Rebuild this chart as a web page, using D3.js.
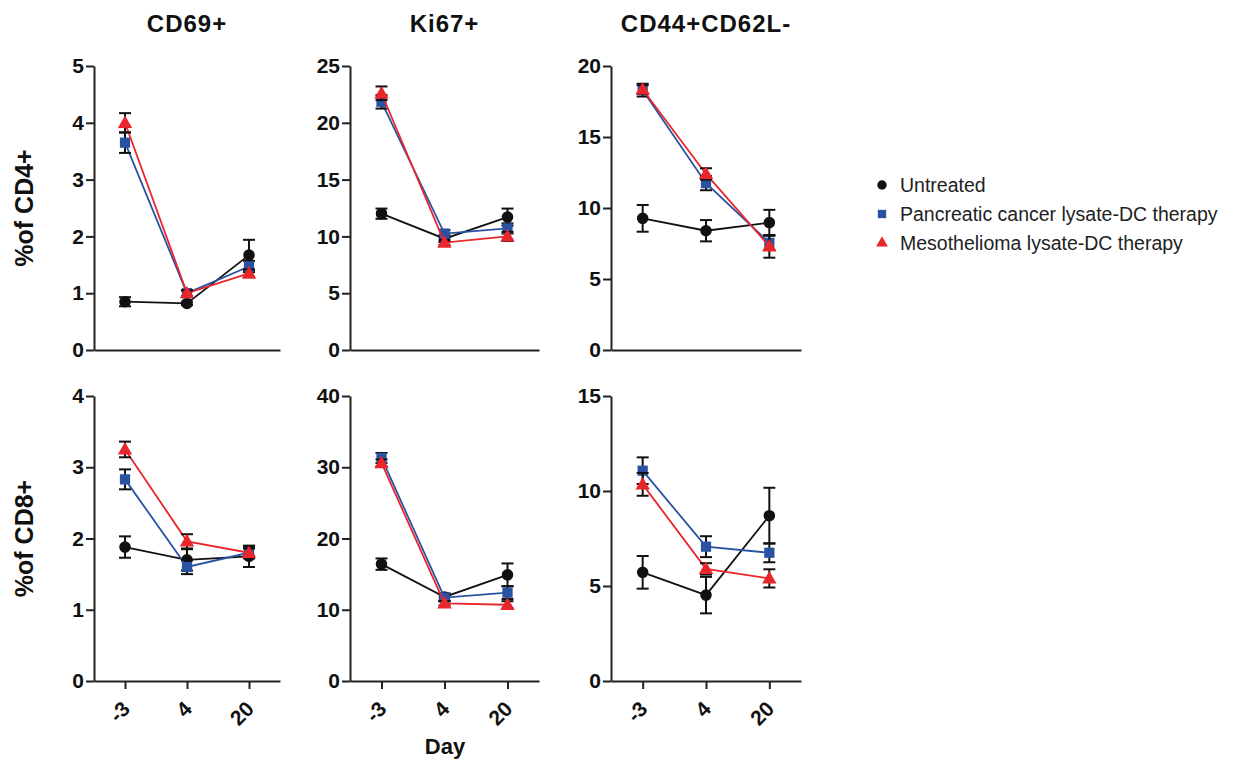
<!DOCTYPE html>
<html>
<head>
<meta charset="utf-8">
<script src="https://cdn.jsdelivr.net/npm/d3@7"></script>
<style>
  body { margin: 0; background: #fff; }
  svg text { fill: #111; }
</style>
</head>
<body>
<div id="chart"></div>
<script>
// Categories and labels
const days = ["-3", "4", "20"];
const groups = ["Untreated", "Pancreatic cancer lysate-DC therapy", "Mesothelioma lysate-DC therapy"];
const panelTitles = ["CD69+", "Ki67+", "CD44+CD62L-"];
const rowLabels = ["%of CD4+", "%of CD8+"];

// y axis max and ticks, by row then column
const yMax = [[5, 25, 20], [4, 40, 15]];
const yTicks = [
  [[0, 1, 2, 3, 4, 5], [0, 5, 10, 15, 20, 25], [0, 5, 10, 15, 20]],
  [[0, 1, 2, 3, 4], [0, 10, 20, 30, 40], [0, 5, 10, 15]]
];

// means and error (SEM) per group: [Untreated, Pancreatic, Mesothelioma]
const cd4Cd69Mean = [[0.85, 0.82, 1.67], [3.65, 1.0, 1.47], [4.0, 1.0, 1.35]];
const cd4Cd69Err  = [[0.08, 0.03, 0.27], [0.18, 0.05, 0.1], [0.17, 0.05, 0.07]];
const cd4Ki67Mean = [[12.0, 9.8, 11.7], [21.85, 10.25, 10.7], [22.6, 9.45, 10.0]];
const cd4Ki67Err  = [[0.45, 0.3, 0.75], [0.6, 0.3, 0.45], [0.6, 0.2, 0.4]];
const cd4Cd44Mean = [[9.27, 8.4, 8.97], [18.3, 11.75, 7.55], [18.35, 12.4, 7.3]];
const cd4Cd44Err  = [[0.94, 0.75, 0.9], [0.45, 0.5, 0.5], [0.3, 0.4, 0.8]];
const cd8Cd69Mean = [[1.88, 1.70, 1.75], [2.83, 1.60, 1.80], [3.25, 1.96, 1.80]];
const cd8Cd69Err  = [[0.15, 0.15, 0.15], [0.14, 0.1, 0.08], [0.11, 0.1, 0.06]];
const cd8Ki67Mean = [[16.4, 11.8, 14.9], [31.3, 11.7, 12.4], [30.6, 10.9, 10.7]];
const cd8Ki67Err  = [[0.8, 0.5, 1.6], [0.7, 0.5, 0.9], [0.5, 0.3, 0.5]];
const cd8Cd44Mean = [[5.72, 4.52, 8.7], [11.07, 7.07, 6.75], [10.35, 5.9, 5.4]];
const cd8Cd44Err  = [[0.86, 0.96, 1.47], [0.7, 0.55, 0.5], [0.6, 0.3, 0.48]];

const means = [[cd4Cd69Mean, cd4Ki67Mean, cd4Cd44Mean], [cd8Cd69Mean, cd8Ki67Mean, cd8Cd44Mean]];
const errs = [[cd4Cd69Err, cd4Ki67Err, cd4Cd44Err], [cd8Cd69Err, cd8Ki67Err, cd8Cd44Err]];

const colors = ["#111111", "#2a52a3", "#e8262b"];
const symbols = [d3.symbolCircle, d3.symbolSquare, d3.symbolTriangle];
const symSizes = [105, 105, 90];

const width = 1235, height = 762;
const boldFont = "'Liberation Sans', Arial, sans-serif";

const svg = d3.select("#chart").append("svg")
  .attr("width", width)
  .attr("height", height);

// panel placement
const colX = [[94, 280], [350, 539], [611, 801]];
const rowY = [[66, 350], [396, 681]];

function boldText(sel, size) {
  sel.style("font-family", boldFont).style("font-weight", "bold")
    .style("font-size", size + "px").style("fill", "#111");
}

for (let r = 0; r < 2; r++) {
  for (let c = 0; c < 3; c++) {
    const x = d3.scalePoint().domain(days).range(colX[c]).padding(0.5);
    const y = d3.scaleLinear().domain([0, yMax[r][c]]).range([rowY[r][1], rowY[r][0]]);
    const g = svg.append("g");

    // y axis
    const yAxis = g.append("g")
      .attr("transform", `translate(${colX[c][0]},0)`)
      .call(d3.axisLeft(y).tickValues(yTicks[r][c]).tickFormat(d3.format("d"))
        .tickSize(8).tickSizeOuter(0).tickPadding(2));
    yAxis.selectAll("text").call(boldText, 21);

    // x axis
    const xAxis = g.append("g")
      .attr("transform", `translate(0,${rowY[r][1]})`)
      .call(d3.axisBottom(x).tickSize(r === 1 ? 8 : 0).tickSizeOuter(0));
    xAxis.selectAll("text").remove();
    if (r === 1) {
      g.selectAll(".xlab")
        .data(days)
        .enter().append("text")
        .attr("class", "xlab")
        .attr("transform", d => `translate(${x(d) + 1},${rowY[r][1] + 24}) rotate(-45)`)
        .attr("text-anchor", "end")
        .attr("dy", "0.35em")
        .call(boldText, 21)
        .text(d => d);
    }
    g.selectAll(".domain, .tick line").attr("stroke", "#222").attr("stroke-width", 2);

    // series
    for (let s = 0; s < groups.length; s++) {
      const m = means[r][c][s];
      const e = errs[r][c][s];
      const pts = days.map((d, i) => ({ d: d, v: m[i], e: e[i] }));

      g.append("path")
        .datum(pts)
        .attr("fill", "none")
        .attr("stroke", colors[s])
        .attr("stroke-width", 1.8)
        .attr("d", d3.line().x(p => x(p.d)).y(p => y(p.v)));

      // error bars
      const eb = g.append("g").selectAll("g").data(pts).enter().append("g");
      eb.append("line")
        .attr("x1", p => x(p.d)).attr("x2", p => x(p.d))
        .attr("y1", p => y(p.v - p.e)).attr("y2", p => y(p.v + p.e))
        .attr("stroke", "#111").attr("stroke-width", 2);
      eb.append("line")
        .attr("x1", p => x(p.d) - 6).attr("x2", p => x(p.d) + 6)
        .attr("y1", p => y(p.v + p.e)).attr("y2", p => y(p.v + p.e))
        .attr("stroke", "#111").attr("stroke-width", 2);
      eb.append("line")
        .attr("x1", p => x(p.d) - 6).attr("x2", p => x(p.d) + 6)
        .attr("y1", p => y(p.v - p.e)).attr("y2", p => y(p.v - p.e))
        .attr("stroke", "#111").attr("stroke-width", 2);

      g.append("g").selectAll("path")
        .data(pts)
        .enter().append("path")
        .attr("transform", p => `translate(${x(p.d)},${y(p.v) + (s === 2 ? 1 : 0)})`)
        .attr("d", d3.symbol().type(symbols[s]).size(symSizes[s]))
        .attr("fill", colors[s]);
    }

    // panel title on top row
    if (r === 0) {
      svg.append("text")
        .attr("x", (colX[c][0] + colX[c][1]) / 2)
        .attr("y", 32)
        .attr("text-anchor", "middle")
        .style("letter-spacing", "1px")
        .call(boldText, 24)
        .text(panelTitles[c]);
    }
  }

  // row label
  svg.append("text")
    .attr("transform", `translate(33,${(rowY[r][0] + rowY[r][1]) / 2}) rotate(-90)`)
    .attr("text-anchor", "middle")
    .call(boldText, 25)
    .text(rowLabels[r]);
}

// x axis title
svg.append("text")
  .attr("x", 445)
  .attr("y", 754)
  .attr("text-anchor", "middle")
  .call(boldText, 22)
  .text("Day");

// legend
const legend = svg.append("g").selectAll("g")
  .data(groups)
  .enter().append("g")
  .attr("transform", (d, i) => `translate(882,${185 + i * 29})`);
legend.append("path")
  .attr("d", (d, i) => d3.symbol().type(symbols[i]).size([70, 70, 60][i])())
  .attr("fill", (d, i) => colors[i]);
legend.append("text")
  .attr("x", 18)
  .attr("dy", "0.35em")
  .style("font-family", "'Liberation Sans', Arial, sans-serif")
  .style("font-size", "19.5px")
  .style("fill", "#222")
  .text(d => d);
</script>
</body>
</html>
